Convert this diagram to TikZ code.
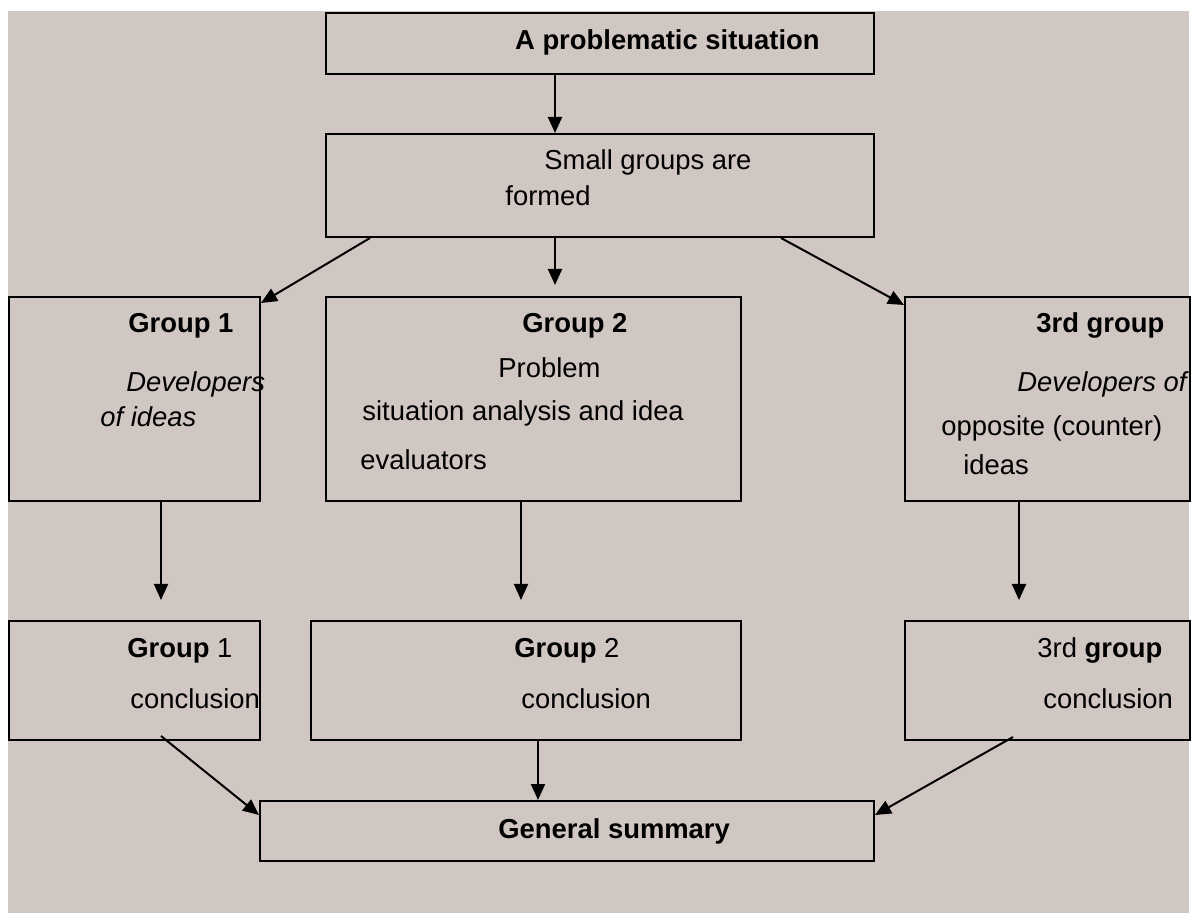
\documentclass[tikz,border=0pt]{standalone}
\usepackage{fontspec}
\setmainfont{Liberation Sans}
\usepackage{tikz}
\usetikzlibrary{arrows.meta}
\usepackage{xcolor}
\definecolor{paper}{RGB}{208,198,194}

\tikzset{
    box/.style={draw, line width=1pt, anchor=north west, inner sep=0pt},
    lbl/.style={anchor=base west, inner sep=0pt, font=\fontsize{13.7}{16}\selectfont},
    arr/.style={-{Triangle[length=8pt,width=7pt]}, line width=1pt}
}

\begin{document}
\begin{tikzpicture}[x=0.5pt, y=-0.5pt]
    \useasboundingbox (0,0) rectangle (1193,913);
    \fill[paper] (8,11) rectangle (1189,913);

    % boxes
    \node[box, minimum width=274pt, minimum height=30.5pt] (prob) at (325,12) {};
    \node[box, minimum width=274pt, minimum height=51.5pt] (formed) at (325,133) {};
    \node[box, minimum width=125.5pt, minimum height=102pt] (g1) at (8,296) {};
    \node[box, minimum width=207.5pt, minimum height=102pt] (g2) at (325,296) {};
    \node[box, minimum width=142.5pt, minimum height=102pt] (g3) at (904,296) {};
    \node[box, minimum width=125.5pt, minimum height=59.5pt] (c1) at (8,620) {};
    \node[box, minimum width=215pt, minimum height=59.5pt] (c2) at (310,620) {};
    \node[box, minimum width=142.5pt, minimum height=59.5pt] (c3) at (904,620) {};
    \node[box, minimum width=307pt, minimum height=30pt] (sum) at (259,800) {};

    % texts
    \node[lbl, anchor=base east] (tprob) at (820,50) {\bfseries A problematic situation};
    \node[lbl] (tform1) at (544,170) {Small groups are};
    \node[lbl] (tform2) at (505,206) {formed};
    \node[lbl] (tg1a) at (128,333) {\bfseries Group 1};
    \node[lbl] (tg1b) at (126,392) {\itshape Developers};
    \node[lbl] (tg1c) at (100,427) {\itshape of ideas};
    \node[lbl] (tg2a) at (522,333) {\bfseries Group 2};
    \node[lbl] (tg2b) at (498,378) {Problem};
    \node[lbl] (tg2c) at (362,421) {situation analysis and idea};
    \node[lbl] (tg2d) at (360,470) {evaluators};
    \node[lbl] (tg3a) at (1036,333) {\bfseries 3rd group};
    \node[lbl] (tg3b) at (1017,392) {\itshape Developers of};
    \node[lbl] (tg3c) at (941,436) {opposite (counter)};
    \node[lbl] (tg3d) at (963,475) {ideas};
    \node[lbl] (tc1a) at (127,657) {\textbf{Group} 1};
    \node[lbl] (tc1b) at (130,708) {conclusion};
    \node[lbl] (tc2a) at (514,658) {\textbf{Group} 2};
    \node[lbl] (tc2b) at (521,708) {conclusion};
    \node[lbl] (tc3a) at (1037,658) {3rd \textbf{group}};
    \node[lbl] (tc3b) at (1043,708) {conclusion};
    \node[lbl] (tsum) at (498,838) {\bfseries General summary};

    % arrows
    \draw[arr] ([xshift=-22.5pt]prob.south) -- ([xshift=-22.5pt]formed.north);
    \draw[arr] ([xshift=22.5pt]formed.south west) -- ([yshift=-3.5pt]g1.north east);
    \draw[arr] ([xshift=-22.5pt]formed.south) -- ([xshift=10.75pt,yshift=5.5pt]g2.north);
    \draw[arr] ([xshift=-47pt]formed.south east) -- ([yshift=-4.5pt]g3.north west);
    \draw[arr] ([xshift=13.25pt]g1.south) -- ([xshift=13.25pt,yshift=10pt]c1.north);
    \draw[arr] ([xshift=-6.25pt]g2.south) -- ([xshift=-2.5pt,yshift=10pt]c2.north);
    \draw[arr] ([xshift=-14.25pt]g3.south) -- ([xshift=-14.25pt,yshift=10pt]c3.north);
    \draw[arr] ([xshift=13.25pt,yshift=2.5pt]c1.south) -- ([yshift=-7.5pt]sum.north west);
    \draw[arr] ([xshift=6pt]c2.south) -- ([xshift=-14.5pt]sum.north);
    \draw[arr] ([xshift=-17.25pt,yshift=2pt]c3.south) -- ([yshift=-7.5pt]sum.north east);
\end{tikzpicture}
\end{document}
